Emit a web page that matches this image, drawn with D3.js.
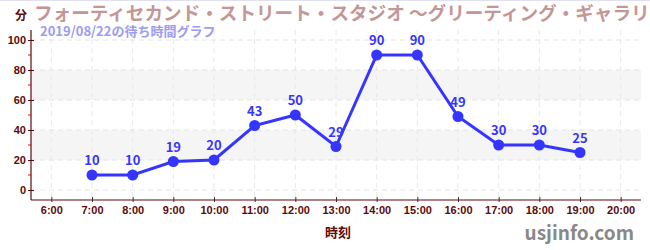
<!DOCTYPE html>
<html>
<head>
<meta charset="utf-8">
<script src="https://cdn.jsdelivr.net/npm/d3@7"></script>
<style>
  body { margin: 0; background: #fff; }
  svg { display: block; font-family: "Noto Sans CJK JP", "Noto Sans", sans-serif; }
</style>
</head>
<body>
<div id="chart"></div>
<script>
// data
const hours = [7, 8, 9, 10, 11, 12, 13, 14, 15, 16, 17, 18, 19]
const waits = [10, 10, 19, 20, 43, 50, 29, 90, 90, 49, 30, 30, 25]
const xTicks = [6, 7, 8, 9, 10, 11, 12, 13, 14, 15, 16, 17, 18, 19, 20]
const yTicks = [0, 20, 40, 60, 80, 100]
const yMinor = [10, 30, 50, 70, 90]
const bands = [[20, 40], [60, 80]]

const title = "フォーティセカンド・ストリート・スタジオ ～グリーティング・ギャラリー"
const subtitle = "2019/08/22の待ち時間グラフ"

const width = 650, height = 250
const axisColor = "#5c0a0a"
const lineColor = "#3535ff"

const svg = d3.select("#chart").append("svg")
  .attr("width", width)
  .attr("height", height)

let x = d3.scaleLinear().domain([5.5, 20.5]).range([31, 641])
let y = d3.scaleLinear().domain([0, 100]).range([190, 40])

// bands
svg.selectAll(".band").data(bands).enter().append("rect")
  .attr("x", x(5.5)).attr("width", x(20.5) - x(5.5))
  .attr("y", d => y(d[1])).attr("height", d => y(d[0]) - y(d[1]))
  .attr("fill", "#f5f5f5")

// grid
svg.selectAll(".hgrid").data(yTicks).enter().append("line")
  .attr("x1", x(5.5)).attr("x2", x(20.5))
  .attr("y1", d => y(d)).attr("y2", d => y(d))
  .attr("stroke", "#e4e4e4").attr("stroke-dasharray", "5,4")
svg.selectAll(".vgrid").data(xTicks).enter().append("line")
  .attr("x1", d => x(d)).attr("x2", d => x(d))
  .attr("y1", 30).attr("y2", 200)
  .attr("stroke", "#e8e8e8").attr("stroke-dasharray", "5,4")

// top border line
svg.append("line").attr("x1", 0).attr("x2", width).attr("y1", 0.5).attr("y2", 0.5)
  .attr("stroke", "#e0e0f4")

// y axis
let yAxis = svg.append("g").attr("transform", "translate(31,0)")
  .call(d3.axisLeft(y).tickValues(yTicks).tickSize(3).tickPadding(2))
yAxis.select(".domain").remove()
yAxis.selectAll(".tick line").attr("x1", -3).attr("x2", 3).attr("stroke", axisColor)
yAxis.selectAll("text").attr("fill", axisColor).style("font-size", "11px").style("font-weight", "bold")
  .attr("x", -5)
svg.append("line").attr("x1", 31).attr("x2", 31).attr("y1", 30).attr("y2", 200)
  .attr("stroke", axisColor).attr("stroke-width", 1.2)
svg.selectAll(".minor").data(yMinor).enter().append("line")
  .attr("x1", 28).attr("x2", 31).attr("y1", d => y(d)).attr("y2", d => y(d))
  .attr("stroke", "#d01010")

// x axis
let xAxis = svg.append("g").attr("transform", "translate(0,200)")
  .call(d3.axisBottom(x).tickValues(xTicks).tickFormat(d => d + ":00").tickSize(3).tickPadding(3))
xAxis.select(".domain").remove()
xAxis.selectAll(".tick line").attr("y1", -3).attr("y2", 2).attr("stroke", "#333")
xAxis.selectAll("text").attr("fill", axisColor).style("font-size", "11px").style("font-weight", "bold")
svg.append("line").attr("x1", 31).attr("x2", 641).attr("y1", 200).attr("y2", 200)
  .attr("stroke", axisColor).attr("stroke-width", 1.2)

// line + markers
const pts = hours.map((h, i) => ({ h: h, v: waits[i] }))
svg.append("path").datum(pts)
  .attr("fill", "none").attr("stroke", lineColor).attr("stroke-width", 3)
  .attr("d", d3.line().x(d => x(d.h)).y(d => y(d.v)))
svg.selectAll(".dot").data(pts).enter().append("circle")
  .attr("cx", d => x(d.h)).attr("cy", d => y(d.v)).attr("r", 5.5)
  .attr("fill", lineColor)
svg.selectAll(".lbl").data(pts).enter().append("text")
  .attr("x", d => x(d.h)).attr("y", d => y(d.v) - 10)
  .attr("text-anchor", "middle")
  .attr("fill", lineColor).style("font-size", "13px").style("font-weight", "bold")
  .text(d => d.v)

// titles
svg.append("text").attr("x", 15).attr("y", 20).text("分")
  .attr("fill", axisColor).style("font-size", "12px").style("font-weight", "bold")
svg.append("text").attr("x", 34).attr("y", 20).text(title)
  .attr("fill", "#c49696").style("font-size", "18.6px").style("font-weight", "bold")
svg.append("text").attr("x", 40).attr("y", 36).text(subtitle)
  .attr("fill", "#9c9cf2").style("font-size", "13px").style("font-weight", "bold")

// axis title + site
svg.append("text").attr("x", 338).attr("y", 237).attr("text-anchor", "middle").text("時刻")
  .attr("fill", axisColor).style("font-size", "13px").style("font-weight", "bold")
svg.append("text").attr("x", 634).attr("y", 240).attr("text-anchor", "end").text("usjinfo.com")
  .attr("fill", "#888").style("font-size", "19px").style("font-weight", "bold")
</script>
</body>
</html>
